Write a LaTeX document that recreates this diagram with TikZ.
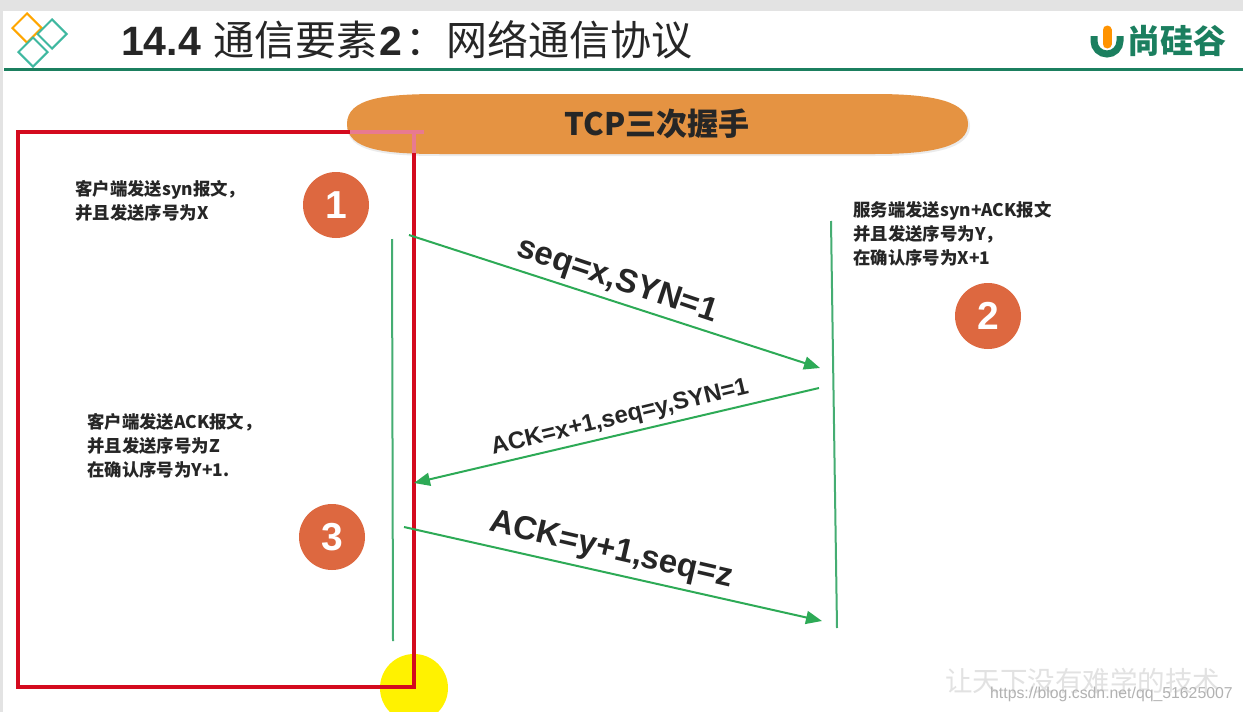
\documentclass[tikz,border=0pt]{standalone}
\usepackage{fontspec}
\setmainfont{Liberation Sans}
\newfontfamily\cjk{Noto Sans CJK SC}
\usetikzlibrary{arrows.meta,shapes.geometric}
\definecolor{hdrgreen}{HTML}{1B7F5F}
\definecolor{pill}{HTML}{E59342}
\definecolor{disc}{HTML}{DD6840}
\definecolor{arrowgreen}{HTML}{2DAA56}
\definecolor{lifegreen}{HTML}{45AD72}
\definecolor{boxred}{HTML}{D40A1E}
\definecolor{boxpink}{HTML}{E87A8F}
\definecolor{teal}{HTML}{3FB8A0}
\definecolor{wmgray}{HTML}{E2E2E2}
\tikzset{
  numdisc/.style={circle,fill=disc,text=white,minimum size=66pt,inner sep=0pt,font=\fontsize{39}{39}\selectfont\bfseries},
  note/.style={align=left,anchor=north west,inner sep=0pt,font=\cjk\fontsize{17.4}{24}\selectfont\bfseries,text=black!85},
  msg/.style={-{Triangle[length=16pt,width=13pt]},arrowgreen,line width=2pt},
  lifeline/.style={lifegreen,line width=2pt},
  msglabel/.style={inner sep=0pt,text=black!85},
  diamondmark/.style={diamond,draw=#1,line width=2pt,minimum width=30pt,minimum height=30pt,inner sep=0pt,aspect=1}
}
\begin{document}
\begin{tikzpicture}[x=1pt,y=-1pt]
\useasboundingbox (0,0) rectangle (1243,712);
\fill[white] (0,0) rectangle (1243,712);
\fill[black!11] (0,0) rectangle (1243,11);
\fill[black!11] (0,11) rectangle (3,712);
% header
\draw[hdrgreen,line width=3pt] (4,69.5) -- (1243,69.5);
\node[diamondmark=orange!70!yellow] (d1) at (27,28) {};
\node[diamondmark=teal] (d2) at (52,34) {};
\node[diamondmark=teal] (d3) at (33,52) {};
\node[anchor=west,inner sep=0pt,font=\cjk\fontsize{41}{41}\selectfont,text=black!85] (title) at (121,40) {{\bfseries\fontspec{Liberation Sans}\fontsize{41}{41}\selectfont 14.4}\hspace{13pt}通信要素\hspace{2pt}{\bfseries\fontspec{Liberation Sans}\fontsize{41}{41}\selectfont 2}\hspace{3pt}：网络通信协议};
% logo
\draw[hdrgreen,line width=7pt] (1094,36) -- (1094,41) arc[start angle=180,end angle=360,radius=13pt] -- (1120,36);
\draw[orange!85!yellow,line width=9pt,line cap=round] (1107,30) -- (1107,44);
\node[anchor=west,inner sep=0pt,font=\cjk\fontsize{33}{33}\selectfont\bfseries,text=hdrgreen] (logo) at (1127,41) {尚硅谷};
% pill
\fill[black!8] (347,126) .. controls (347,100) and (385,96) .. (440,96) -- (875,96) .. controls (935,96) and (970,104) .. (970,126) .. controls (970,148) and (935,156) .. (875,156) -- (440,156) .. controls (385,156) and (347,152) .. (347,126) -- cycle;
\fill[pill] (347,124) .. controls (347,98) and (385,94) .. (440,94) -- (875,94) .. controls (935,94) and (968,102) .. (968,124) .. controls (968,146) and (935,154) .. (875,154) -- (440,154) .. controls (385,154) and (347,150) .. (347,124) -- cycle;
\node[inner sep=0pt,font=\cjk\fontsize{31}{31}\selectfont\bfseries,text=black!85] (pilltext) at (657,124) {TCP三次握手};
% highlight dot
\fill[yellow] (414,688) circle (34pt);
% red box
\coordinate (ra) at (18,132);
\coordinate (rb) at (414,132);
\coordinate (rc) at (414,687);
\coordinate (rd) at (18,687);
\draw[boxred,line width=3.5pt,line join=miter] (rb) -- (rc) -- (rd) -- (ra) -- (rb);
\draw[boxpink,line width=3.5pt] (350,132) -- (424,132);
\draw[boxpink,line width=3.5pt] (414,132) -- (414,153);
% lifelines
\coordinate (l1) at (392,239);
\coordinate (l2) at (393,641);
\coordinate (r1) at (831,221);
\coordinate (r2) at (837,628);
\draw[lifeline] (l1) -- (l2);
\draw[lifeline] (r1) -- (r2);
% messages
\coordinate (m1a) at (409,235);
\coordinate (m1b) at (820,368);
\coordinate (m2a) at (819,388);
\coordinate (m2b) at (414,483);
\coordinate (m3a) at (404,527);
\coordinate (m3b) at (822,621);
\draw[msg] (m1a) -- (m1b);
\draw[msg] (m2a) -- (m2b);
\draw[msg] (m3a) -- (m3b);
\node[msglabel,rotate=-18.5,font=\bfseries\fontsize{33}{33}\selectfont] (t1) at (617,281) {seq=x,SYN=1};
\node[msglabel,rotate=13.5,font=\bfseries\fontsize{24}{24}\selectfont] (t2) at (620,418) {ACK=x+1,seq=y,SYN=1};
\node[msglabel,rotate=-13,font=\bfseries\fontsize{33}{33}\selectfont] (t3) at (611,551) {ACK=y+1,seq=z};
% discs
\node[numdisc] (n1) at (336,205) {1};
\node[numdisc] (n2) at (988,316) {2};
\node[numdisc] (n3) at (332,537) {3};
% notes
\node[note] (c1) at (75,180) {客户端发送syn报文，\\并且发送序号为X};
\node[note] (c2) at (853,201.5) {服务端发送syn+ACK报文\\并且发送序号为Y，\\在确认序号为X+1};
\node[note] (c3) at (87,413) {客户端发送ACK报文，\\并且发送序号为Z\\在确认序号为Y+1.};
% watermark
\node[anchor=west,inner sep=0pt,font=\cjk\fontsize{27.5}{27.5}\selectfont,text=wmgray] (wm1) at (945,681) {让天下没有难学的技术};
\node[anchor=west,inner sep=0pt,font=\fontsize{15.8}{15.8}\selectfont,text=black!30] (wm2) at (990,694) {https://blog.csdn.net/qq\_51625007};
\end{tikzpicture}
\end{document}
